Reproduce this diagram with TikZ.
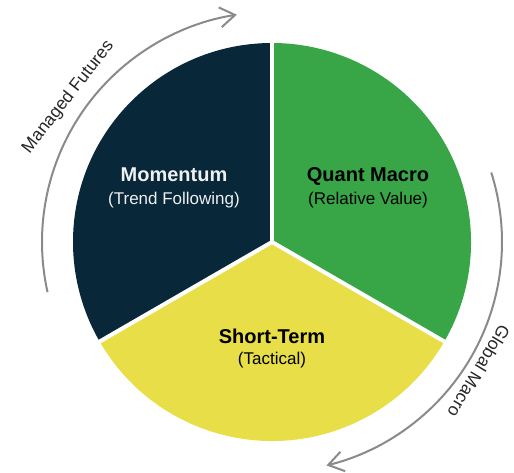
\documentclass[tikz,border=0pt]{standalone}
\usepackage{fontspec}
\setmainfont{Liberation Sans}
\usetikzlibrary{arrows.meta}
\definecolor{navy}{HTML}{082739}
\definecolor{qgreen}{HTML}{38A647}
\definecolor{qyellow}{HTML}{E8DE47}
\definecolor{arcgray}{HTML}{8A8A8A}
\begin{document}
\begin{tikzpicture}[x=1pt,y=1pt,
  divider/.style={white,line width=4pt},
  arcline/.style={arcgray,line width=2pt,-{Straight Barb[length=15pt,width=20pt,line width=2pt]}},
  titletext/.style={font=\fontsize{20}{24}\selectfont\bfseries,anchor=base,inner sep=0pt},
  subtext/.style={font=\fontsize{17}{20}\selectfont,anchor=base,inner sep=0pt},
  arclabel/.style={font=\fontsize{17.5}{20}\selectfont,text=black!85,inner sep=0pt}]
\useasboundingbox (0,0) rectangle (514,472);
\coordinate (c) at (272,230);
% sectors
\fill[navy] (c) -- ([shift={(90:199)}]c) arc[start angle=90,end angle=210,radius=199] -- cycle;
\fill[qgreen] (c) -- ([shift={(-30:199)}]c) arc[start angle=-30,end angle=90,radius=199] -- cycle;
\fill[qyellow] (c) -- ([shift={(210:199)}]c) arc[start angle=210,end angle=330,radius=199] -- cycle;
% dividers
\coordinate (d1) at ([shift={(90:201)}]c);
\coordinate (d2) at ([shift={(210:201)}]c);
\coordinate (d3) at ([shift={(330:201)}]c);
\draw[divider] (c) -- (d1);
\draw[divider] (c) -- (d2);
\draw[divider] (c) -- (d3);
% arcs
\coordinate (a1) at ([shift={(192.6:230)}]c);
\coordinate (a2) at ([shift={(17.6:230)}]c);
\draw[arcline] (a1) arc[start angle=192.6,end angle=98.8,radius=230];
\draw[arcline] (a2) arc[start angle=17.6,end angle=-76.3,radius=230];
% arc labels
\node[arclabel,rotate=52] (mf) at ([shift={(144.6:250)}]c) {Managed Futures};
\node[arclabel,rotate=-121] (gm) at ([shift={(-32:244)}]c) {Global Macro};
% sector labels
\node[titletext,text=white!93!navy] (mom) at (174,290) {Momentum};
\node[subtext,text=white!93!navy] (momsub) at (174,267.5) {(Trend Following)};
\node[titletext,text=black] (qm) at (368,290) {Quant Macro};
\node[subtext,text=black] (qmsub) at (368,267.5) {(Relative Value)};
\node[titletext,text=black] (st) at (272,129) {Short-Term};
\node[subtext,text=black] (stsub) at (272,108) {(Tactical)};
\end{tikzpicture}
\end{document}
